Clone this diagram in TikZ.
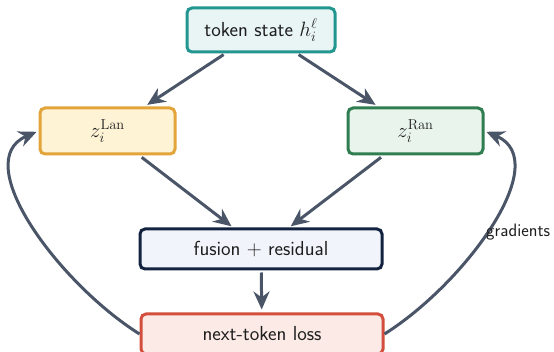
\documentclass[tikz,border=0pt]{standalone}
\usetikzlibrary{arrows.meta}
\definecolor{arrowc}{HTML}{4A5568}
\definecolor{tealb}{HTML}{22968F}
\definecolor{tealf}{HTML}{E8F5F4}
\definecolor{orangeb}{HTML}{E3A43A}
\definecolor{orangef}{HTML}{FFF3D6}
\definecolor{greenb}{HTML}{2F7D50}
\definecolor{greenf}{HTML}{E9F5EC}
\definecolor{navyb}{HTML}{13233F}
\definecolor{navyf}{HTML}{F1F5FB}
\definecolor{redb}{HTML}{D34E3C}
\definecolor{redf}{HTML}{FBEAE6}
\definecolor{textc}{HTML}{1E1E1E}
\tikzset{
  box/.style={draw, line width=3pt, rounded corners=5pt, inner sep=0pt, align=center,
    text=textc, font=\sffamily\fontsize{20.3}{24}\selectfont},
  conn/.style={draw=arrowc, line width=3pt, -{Stealth[length=18pt,width=16pt]}},
  lbl/.style={text=textc, font=\sffamily\fontsize{18}{22}\selectfont}
}
\begin{document}
\begin{tikzpicture}[x=1pt,y=-1pt]
\useasboundingbox (0,0) rectangle (554,352);
\node[box, draw=tealb, fill=tealf, minimum width=148pt, minimum height=44pt] (tok) at (261,30) {token state $h_i^\ell$};
\node[box, draw=orangeb, fill=orangef, minimum width=135pt, minimum height=46pt] (lan) at (107.5,131) {$z_i^{\mathrm{Lan}}$};
\node[box, draw=greenb, fill=greenf, minimum width=135pt, minimum height=46pt] (ran) at (415.5,131) {$z_i^{\mathrm{Ran}}$};
\node[box, draw=navyb, fill=navyf, minimum width=242pt, minimum height=40pt] (fus) at (261,249) {fusion $+$ residual};
\node[box, draw=redb, fill=redf, minimum width=242pt, minimum height=40pt] (loss) at (262,334) {next-token loss};
\draw[conn, shorten <=2pt, shorten >=3pt] (tok) -- (lan);
\draw[conn, shorten <=2pt, shorten >=3pt] (tok) -- (ran);
\draw[conn, shorten <=3pt, shorten >=2pt] (lan) -- (fus);
\draw[conn, shorten <=3pt, shorten >=2pt] (ran) -- (fus);
\draw[conn, shorten <=2pt, shorten >=3pt] (fus) -- (loss);
\draw[conn, shorten >=2pt] (loss.west) .. controls +(-81,-51) and +(-70,30) .. (lan.west);
\draw[conn, shorten >=2pt] (loss.east) .. controls +(81,-51) and +(70,30) .. (ran.east);
\node[lbl, anchor=west, inner sep=0pt] (grad) at (486,232) {gradients};
\end{tikzpicture}
\end{document}
